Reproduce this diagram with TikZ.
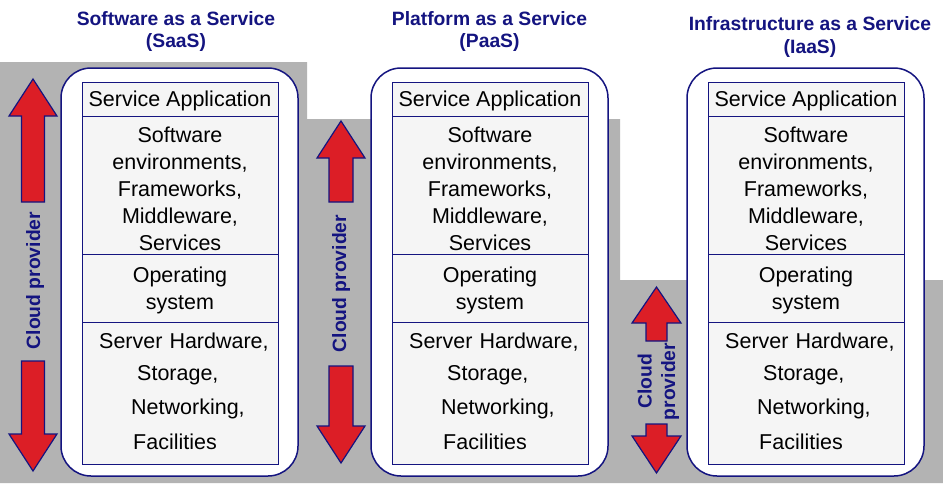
\documentclass[tikz,border=0pt]{standalone}
\usepackage{fontspec}
\setmainfont{Liberation Sans}
\definecolor{navy}{RGB}{20,20,128}
\definecolor{bggray}{RGB}{179,179,179}
\definecolor{rowgray}{RGB}{245,245,245}
\definecolor{arrowred}{RGB}{220,30,38}
\tikzset{
  panelbox/.style={draw=navy, line width=1.5pt, fill=white, rounded corners=30pt},
  rowbox/.style={draw=navy, line width=1.2pt, fill=rowgray, minimum width=196pt, inner sep=0pt, anchor=north west},
  bodytext/.style={font=\fontsize{21.5}{27}\selectfont, inner sep=0pt, anchor=base},
  lefttext/.style={bodytext, anchor=base west},
  titletext/.style={font=\fontsize{19.3}{23}\selectfont\bfseries, text=navy, inner sep=0pt, anchor=base},
  cloudtext/.style={titletext, rotate=90},
  blockarrow/.style={fill=arrowred, draw=navy, line width=1.2pt, line join=miter},
}
\newcommand\cloudstack[2]{%
  \begin{scope}[xshift=#2pt]
    \draw[panelbox] (61,68) rectangle (298,476);
    \node[rowbox, minimum height=34pt]  (#1r1) at (82,82) {};
    \node[rowbox, minimum height=138pt] (#1r2) at (82,116) {};
    \node[rowbox, minimum height=68pt]  (#1r3) at (82,254) {};
    \node[rowbox, minimum height=142pt] (#1r4) at (82,322) {};
    \node[bodytext] (#1t1) at (180,106) {Service Application};
    \foreach \ln [count=\k] in {Software,{environments,},{Frameworks,},{Middleware,},Services}
      \node[bodytext] (#1b\k) at (180,115+27*\k) {\ln};
    \node[bodytext] (#1o1) at (180,282) {Operating};
    \node[bodytext] (#1o2) at (180,309) {system};
    \node[lefttext] (#1h1) at (99,348) {Server\hspace{7pt}Hardware,};
    \node[lefttext] (#1h2) at (137,380) {Storage,};
    \node[lefttext] (#1h3) at (131,414) {Networking,};
    \node[lefttext] (#1h4) at (133,449) {Facilities};
  \end{scope}}
\begin{document}
\begin{tikzpicture}[x=1pt, y=-1pt]
  \useasboundingbox (0,0) rectangle (943,483);
  \fill[white] (0,0) rectangle (943,483);
  % stepped grey background
  \fill[bggray] (0,62) -- (307,62) -- (307,119) -- (620,119) -- (620,280)
    -- (943,280) -- (943,483) -- (0,483) -- cycle;
  % titles
  \node[titletext] (t1a) at (176,25) {Software as a Service};
  \node[titletext] (t1b) at (176,47.5) {(SaaS)};
  \node[titletext] (t2a) at (489.5,25) {Platform as a Service};
  \node[titletext] (t2b) at (489.5,47.5) {(PaaS)};
  \node[titletext] (t3a) at (810,30) {Infrastructure as a Service};
  \node[titletext] (t3b) at (810,53) {(IaaS)};
  % block arrows, SaaS
  \draw[blockarrow] (33,79) -- (57,116) -- (44.5,116) -- (44.5,202) -- (21.5,202)
    -- (21.5,116) -- (9,116) -- cycle;
  \draw[blockarrow] (21.5,361) -- (44.5,361) -- (44.5,434) -- (57,434) -- (33,471)
    -- (9,434) -- (21.5,434) -- cycle;
  % block arrows, PaaS
  \draw[blockarrow] (341,121) -- (365,158) -- (353,158) -- (353,202) -- (329,202)
    -- (329,158) -- (317,158) -- cycle;
  \draw[blockarrow] (329,366) -- (353,366) -- (353,426) -- (365,426) -- (341,463)
    -- (317,426) -- (329,426) -- cycle;
  % block arrows, IaaS
  \draw[blockarrow] (656.5,287) -- (681,323) -- (667,323) -- (667,341) -- (646,341)
    -- (646,323) -- (632,323) -- cycle;
  \draw[blockarrow] (646,424) -- (667,424) -- (667,436) -- (681,436) -- (656.5,473)
    -- (632,436) -- (646,436) -- cycle;
  % cloud provider labels
  \node[cloudtext] (c1) at (40,280.5) {Cloud provider};
  \node[cloudtext] (c2) at (346,283.5) {Cloud provider};
  \node[cloudtext] (c3a) at (651.5,381.5) {Cloud};
  \node[cloudtext] (c3b) at (675,381.5) {provider};
  % the three stacks
  \cloudstack{s}{0}
  \cloudstack{p}{310}
  \cloudstack{i}{626}
\end{tikzpicture}
\end{document}
